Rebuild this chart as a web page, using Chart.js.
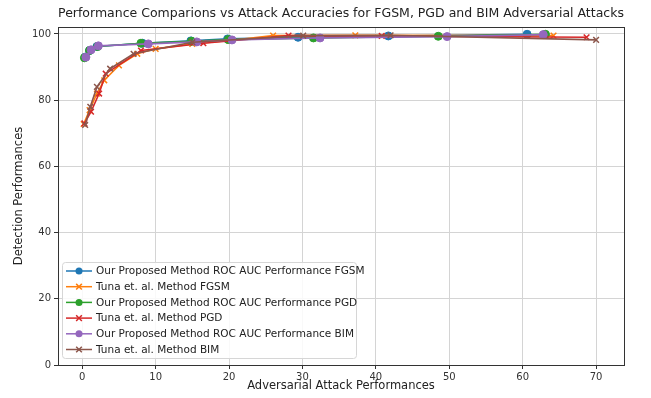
<!DOCTYPE html>
<html>
<head>
<meta charset="utf-8">
<script src="https://cdn.jsdelivr.net/npm/chart.js@4.4.1/dist/chart.umd.min.js"></script>
<style>
  html, body { margin: 0; padding: 0; background: #fff; }
  #wrap { width: 651px; height: 398px; }
</style>
</head>
<body>
<div id="wrap"><canvas id="perf-chart" width="651" height="398"></canvas></div>
<script>
// perf-chart — detection performance vs attack performance

const TITLE   = "Performance Comparions vs Attack Accuracies for FGSM, PGD and BIM Adversarial Attacks";
const X_LABEL = "Adversarial Attack Performances";
const Y_LABEL = "Detection Performances";

const xTicks = [0, 10, 20, 30, 40, 50, 60, 70];
const yTicks = [0, 20, 40, 60, 80, 100];

// Our proposed method (ROC AUC)
const oursFgsmX = [0.4, 1.0, 2.0, 8.2, 14.8, 19.8, 29.4, 41.7, 60.6];
const oursFgsmY = [93.0, 95.0, 96.2, 97.2, 97.9, 98.5, 99.0, 99.4, 99.9];
const oursPgdX  = [0.3, 1.0, 2.1, 8.0, 14.9, 19.9, 31.5, 48.5, 63.1];
const oursPgdY  = [92.8, 95.0, 96.2, 97.2, 97.8, 98.3, 98.8, 99.3, 99.9];
const oursBimX  = [0.5, 1.2, 2.2, 9.0, 15.6, 20.4, 32.4, 49.7, 62.8];
const oursBimY  = [93.0, 95.2, 96.4, 97.0, 97.6, 98.2, 98.8, 99.2, 99.8];

// Tuna et. al.
const tunaFgsmX = [0.2, 1.0, 2.0, 3.0, 5.0, 7.5, 10.0, 15.0, 20.0, 26.0, 37.2, 64.2];
const tunaFgsmY = [72.8, 77.0, 82.0, 86.0, 90.5, 94.0, 95.5, 97.0, 98.0, 99.5, 99.6, 99.5];
const tunaPgdX  = [0.3, 1.2, 2.3, 3.2, 8.0, 16.5, 28.1, 40.8, 68.7];
const tunaPgdY  = [73.0, 76.5, 82.0, 88.0, 95.0, 97.2, 99.5, 99.4, 99.0];
const tunaBimX  = [0.4, 1.1, 2.0, 3.8, 7.0, 15.0, 30.1, 42.0, 70.0];
const tunaBimY  = [72.5, 78.0, 84.0, 89.5, 94.0, 97.5, 99.5, 99.6, 98.2];

const FONT = "'DejaVu Sans', sans-serif";
const pts  = (xs, ys) => xs.map((x, i) => ({ x: x, y: ys[i] }));

let nSeries = 0;
function series(label, xs, ys, color, marker) {
    nSeries++;
    return {
        label:            label,
        data:             pts(xs, ys),
        borderColor:      color,
        backgroundColor:  color,
        borderWidth:      1.6,
        pointStyle:       marker,
        pointRadius:      marker === "circle" ? 4 : 4,
        pointBorderWidth: marker === "circle" ? 1 : 1.5,
        showLine:         true,
        tension:          0,
        order:            10 - nSeries,   // later series drawn on top, like matplotlib
    };
}

// frame around the axes + legend box inside the plot (matplotlib look)
const framePlugin = {
    id: "frameAndLegend",
    afterDatasetsDraw(chart) {
        const { ctx, chartArea: a } = chart;
        ctx.save();
        ctx.strokeStyle = "#333";
        ctx.lineWidth   = 1;
        ctx.strokeRect(a.left + 0.5, a.top + 0.5, a.right - a.left, a.bottom - a.top);

        // legend
        const bx = a.left + 4, by = a.bottom - 103, bw = 294, bh = 96, row = 15.7;
        ctx.fillStyle   = "rgba(255,255,255,0.85)";
        ctx.strokeStyle = "#d6d6d6";
        ctx.beginPath();
        ctx.roundRect(bx + 0.5, by + 0.5, bw, bh, 3);
        ctx.fill();
        ctx.stroke();

        ctx.font         = "10.5px " + FONT;
        ctx.textBaseline = "middle";
        chart.data.datasets.forEach((ds, i) => {
            const y = by + 9 + i * row;
            ctx.strokeStyle = ds.borderColor;
            ctx.lineWidth   = 1.5;
            ctx.beginPath();
            ctx.moveTo(bx + 4, y);
            ctx.lineTo(bx + 30, y);
            ctx.stroke();
            if (ds.pointStyle === "circle") {
                ctx.fillStyle = ds.borderColor;
                ctx.beginPath();
                ctx.arc(bx + 17, y, 3.5, 0, Math.PI * 2);
                ctx.fill();
            } else {
                Chart.helpers.drawPoint(ctx, { pointStyle: ds.pointStyle, radius: 4, borderWidth: 1.5 }, bx + 17, y);
            }
            ctx.fillStyle = "#222";
            ctx.fillText(ds.label, bx + 34, y + 0.5);
        });
        ctx.restore();
    }
};

new Chart(document.getElementById("perf-chart"), {
    type: "scatter",
    data: {
        datasets: [
            series("Our Proposed Method ROC AUC Performance FGSM", oursFgsmX, oursFgsmY, "#1f77b4", "circle"),
            series("Tuna et. al. Method FGSM",                     tunaFgsmX, tunaFgsmY, "#ff7f0e", "crossRot"),
            series("Our Proposed Method ROC AUC Performance PGD",  oursPgdX,  oursPgdY,  "#2ca02c", "circle"),
            series("Tuna et. al. Method PGD",                      tunaPgdX,  tunaPgdY,  "#d62728", "crossRot"),
            series("Our Proposed Method ROC AUC Performance BIM",  oursBimX,  oursBimY,  "#9467bd", "circle"),
            series("Tuna et. al. Method BIM",                      tunaBimX,  tunaBimY,  "#8c564b", "crossRot"),
        ]
    },
    options: {
        responsive: false,
        animation:  false,
        layout: { padding: { top: 0, right: 27, bottom: 0, left: 0 } },
        scales: {
            x: {
                type: "linear",
                min: -3.3,
                max: 73.8,
                afterBuildTicks: s => { s.ticks = xTicks.map(v => ({ value: v })); },
                afterFit: s => { s.height = 33; },
                ticks:  { color: "#333", font: { family: FONT, size: 10 }, padding: 2, maxRotation: 0 },
                grid:   { color: "#d4d4d4", tickColor: "#333", tickLength: 4 },
                border: { display: false },
                title:  { display: true, text: X_LABEL, color: "#222",
                          font: { family: FONT, size: 11.5 }, padding: { top: 0, bottom: 5 } },
            },
            y: {
                type: "linear",
                min: 0,
                max: 102.1,
                afterBuildTicks: s => { s.ticks = yTicks.map(v => ({ value: v })); },
                afterFit: s => { s.width = 58; },
                ticks:  { color: "#333", font: { family: FONT, size: 10 }, padding: 3 },
                grid:   { color: "#d4d4d4", tickColor: "#333", tickLength: 4 },
                border: { display: false },
                title:  { display: true, text: Y_LABEL, color: "#222",
                          font: { family: FONT, size: 11.5 }, padding: { top: 12, bottom: 0 } },
            }
        },
        plugins: {
            legend:  { display: false },
            tooltip: { enabled: false },
            title: {
                display:  true,
                text:     TITLE,
                fullSize: false,
                color:    "#222",
                font:     { family: FONT, size: 12.5, weight: "normal" },
                padding:  { top: 6, bottom: 6 },
            }
        }
    },
    plugins: [framePlugin]
});
</script>
</body>
</html>
